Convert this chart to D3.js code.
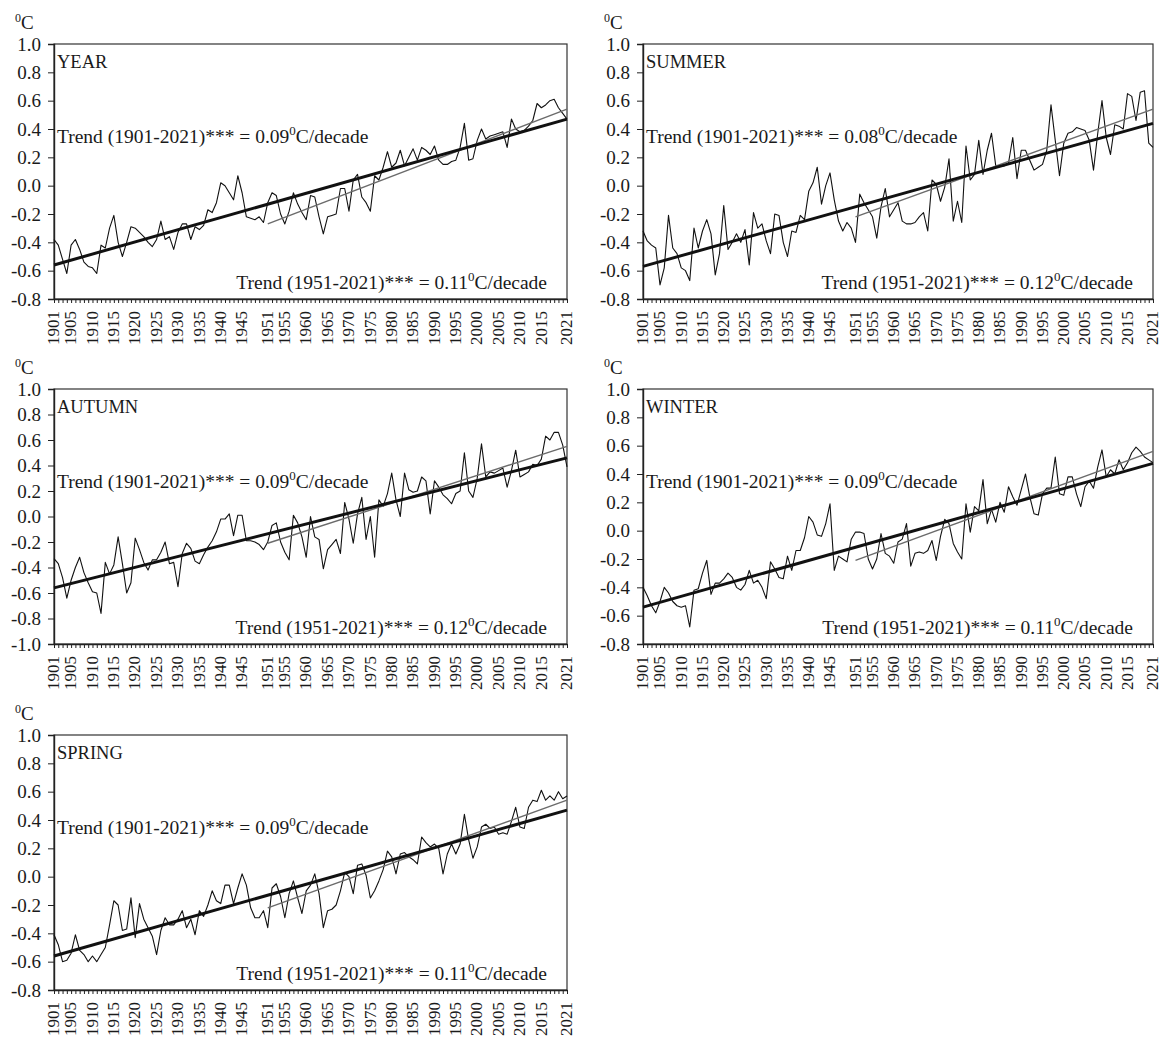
<!DOCTYPE html>
<html>
<head>
<meta charset="utf-8">
<script src="https://cdn.jsdelivr.net/npm/d3@7"></script>
<style>
  body { margin: 0; background: #fff; }
  svg text { font-family: "Liberation Serif", "Times New Roman", serif; fill: #1a1a1a; }
</style>
</head>
<body>
<div id="chart"></div>
<script>
// years 1901-2021
const years = d3.range(1901, 2022);

const yearVals = [
  -0.38,-0.42,-0.52,-0.62,-0.42,-0.38,-0.45,-0.54,-0.57,-0.58,
  -0.62,-0.42,-0.44,-0.30,-0.21,-0.40,-0.50,-0.40,-0.29,-0.30,
  -0.33,-0.36,-0.40,-0.43,-0.38,-0.25,-0.38,-0.36,-0.45,-0.33,
  -0.27,-0.27,-0.38,-0.29,-0.31,-0.28,-0.17,-0.19,-0.12,0.02,
  0.00,-0.05,-0.10,0.07,-0.05,-0.22,-0.23,-0.24,-0.22,-0.26,
  -0.12,-0.05,-0.07,-0.20,-0.27,-0.18,-0.05,-0.13,-0.19,-0.24,
  -0.07,-0.08,-0.22,-0.34,-0.22,-0.21,-0.20,-0.02,-0.02,-0.18,
  0.04,0.08,-0.08,-0.12,-0.18,0.07,0.04,0.13,0.24,0.13,
  0.16,0.25,0.14,0.20,0.26,0.18,0.27,0.25,0.22,0.28,
  0.18,0.15,0.15,0.17,0.18,0.27,0.44,0.18,0.19,0.32,
  0.40,0.33,0.35,0.36,0.37,0.38,0.27,0.47,0.40,0.38,
  0.39,0.42,0.46,0.58,0.55,0.57,0.60,0.61,0.55,0.51,
  0.47
];

const summerVals = [
  -0.32,-0.39,-0.42,-0.44,-0.70,-0.58,-0.21,-0.44,-0.48,-0.58,
  -0.60,-0.67,-0.30,-0.44,-0.32,-0.24,-0.34,-0.63,-0.48,-0.14,
  -0.45,-0.40,-0.34,-0.40,-0.31,-0.56,-0.19,-0.30,-0.27,-0.39,
  -0.48,-0.20,-0.21,-0.40,-0.50,-0.32,-0.33,-0.21,-0.24,-0.04,
  0.02,0.13,-0.13,0.00,0.09,-0.10,-0.25,-0.32,-0.26,-0.30,
  -0.40,-0.06,-0.12,-0.17,-0.22,-0.37,-0.15,-0.02,-0.22,-0.17,
  -0.12,-0.25,-0.27,-0.27,-0.26,-0.22,-0.19,-0.32,0.04,0.01,
  -0.11,-0.01,0.19,-0.25,-0.11,-0.26,0.28,0.04,0.08,0.32,
  0.08,0.25,0.37,0.14,0.14,0.14,0.16,0.34,0.05,0.25,
  0.25,0.18,0.11,0.13,0.15,0.25,0.57,0.32,0.07,0.30,
  0.37,0.38,0.41,0.40,0.39,0.32,0.11,0.37,0.60,0.34,
  0.22,0.43,0.42,0.40,0.65,0.63,0.46,0.66,0.67,0.30,
  0.27
];

const autumnVals = [
  -0.33,-0.37,-0.48,-0.64,-0.50,-0.40,-0.32,-0.44,-0.52,-0.59,
  -0.60,-0.76,-0.36,-0.45,-0.38,-0.16,-0.37,-0.60,-0.52,-0.17,
  -0.26,-0.36,-0.42,-0.34,-0.34,-0.28,-0.20,-0.37,-0.36,-0.55,
  -0.29,-0.21,-0.25,-0.35,-0.37,-0.30,-0.24,-0.19,-0.12,-0.02,
  -0.02,0.02,-0.15,0.01,0.01,-0.19,-0.19,-0.20,-0.22,-0.26,
  -0.20,-0.07,-0.05,-0.20,-0.28,-0.34,0.01,-0.05,-0.16,-0.32,
  0.00,-0.16,-0.18,-0.41,-0.26,-0.22,-0.18,-0.29,0.11,-0.02,
  -0.21,0.02,0.15,-0.18,0.00,-0.32,0.13,0.08,0.18,0.34,
  0.13,0.00,0.34,0.21,0.19,0.20,0.31,0.28,0.02,0.28,
  0.23,0.17,0.14,0.10,0.18,0.20,0.50,0.20,0.15,0.30,
  0.57,0.31,0.35,0.34,0.36,0.38,0.23,0.36,0.52,0.31,
  0.33,0.35,0.41,0.40,0.45,0.63,0.60,0.66,0.66,0.56,
  0.39
];

const winterVals = [
  -0.40,-0.46,-0.53,-0.58,-0.50,-0.40,-0.44,-0.50,-0.53,-0.54,
  -0.53,-0.68,-0.42,-0.41,-0.30,-0.21,-0.45,-0.37,-0.37,-0.34,
  -0.30,-0.33,-0.40,-0.42,-0.38,-0.28,-0.37,-0.35,-0.40,-0.48,
  -0.22,-0.27,-0.33,-0.34,-0.18,-0.28,-0.14,-0.14,-0.05,0.10,
  0.06,-0.03,-0.04,0.05,0.19,-0.28,-0.18,-0.20,-0.22,-0.06,
  -0.01,-0.01,-0.02,-0.20,-0.27,-0.20,-0.02,-0.16,-0.18,-0.23,
  -0.08,-0.06,0.05,-0.25,-0.16,-0.15,-0.16,-0.14,-0.07,-0.21,
  -0.04,0.08,0.05,-0.09,-0.15,-0.20,0.19,-0.01,0.17,0.14,
  0.36,0.05,0.15,0.06,0.20,0.13,0.31,0.24,0.18,0.29,
  0.40,0.24,0.12,0.11,0.26,0.30,0.30,0.52,0.26,0.25,
  0.38,0.38,0.26,0.17,0.31,0.35,0.30,0.45,0.57,0.38,
  0.43,0.40,0.50,0.43,0.48,0.55,0.59,0.56,0.52,0.50,
  0.48
];

const springVals = [
  -0.41,-0.48,-0.60,-0.59,-0.54,-0.41,-0.52,-0.55,-0.60,-0.56,
  -0.60,-0.55,-0.50,-0.34,-0.17,-0.20,-0.38,-0.37,-0.15,-0.43,
  -0.19,-0.30,-0.36,-0.42,-0.55,-0.38,-0.29,-0.34,-0.34,-0.30,
  -0.24,-0.36,-0.30,-0.41,-0.24,-0.28,-0.20,-0.10,-0.17,-0.19,
  -0.06,-0.06,-0.19,-0.08,0.02,-0.06,-0.22,-0.29,-0.29,-0.24,
  -0.36,-0.08,-0.05,-0.14,-0.29,-0.12,-0.03,-0.15,-0.26,-0.10,
  -0.06,0.02,-0.12,-0.36,-0.24,-0.23,-0.20,-0.10,0.03,0.00,
  -0.12,0.08,0.09,0.01,-0.15,-0.10,-0.03,0.05,0.18,0.14,
  0.02,0.16,0.17,0.14,0.12,0.09,0.28,0.24,0.21,0.23,
  0.20,0.02,0.16,0.23,0.16,0.23,0.44,0.26,0.13,0.21,
  0.35,0.37,0.34,0.35,0.30,0.31,0.30,0.39,0.49,0.35,
  0.34,0.49,0.54,0.53,0.61,0.54,0.57,0.54,0.60,0.55,
  0.57
];

// trend line end values: [start, end]
const trendLong = { YEAR: [-0.56, 0.47], SUMMER: [-0.57, 0.44], AUTUMN: [-0.56, 0.46], WINTER: [-0.54, 0.475], SPRING: [-0.56, 0.47] };
const trendShort = { YEAR: [-0.27, 0.54], SUMMER: [-0.22, 0.54], AUTUMN: [-0.21, 0.55], WINTER: [-0.21, 0.56], SPRING: [-0.22, 0.54] };
const rateLong = { YEAR: '0.09', SUMMER: '0.08', AUTUMN: '0.09', WINTER: '0.09', SPRING: '0.09' };
const rateShort = { YEAR: '0.11', SUMMER: '0.12', AUTUMN: '0.12', WINTER: '0.11', SPRING: '0.11' };

const yTicksA = [-0.8, -0.6, -0.4, -0.2, 0.0, 0.2, 0.4, 0.6, 0.8, 1.0];
const yTicksB = [-1.0, -0.8, -0.6, -0.4, -0.2, 0.0, 0.2, 0.4, 0.6, 0.8, 1.0];
const xLabels = [1901, 1905, 1910, 1915, 1920, 1925, 1930, 1935, 1940, 1945,
                 1951, 1955, 1960, 1965, 1970, 1975, 1980, 1985, 1990, 1995,
                 2000, 2005, 2010, 2015, 2021];

const panels = [
  { name: 'YEAR', values: yearVals, yTicks: yTicksA, left: 54, top: 44, w: 513 },
  { name: 'SUMMER', values: summerVals, yTicks: yTicksA, left: 643, top: 44, w: 510 },
  { name: 'AUTUMN', values: autumnVals, yTicks: yTicksB, left: 54, top: 389, w: 513 },
  { name: 'WINTER', values: winterVals, yTicks: yTicksA, left: 643, top: 389, w: 510 },
  { name: 'SPRING', values: springVals, yTicks: yTicksA, left: 54, top: 735, w: 513 },
];

const width = 1162, height = 1044;
const ph = 255;

const svg = d3.select('#chart')
  .append('svg')
  .attr('width', width)
  .attr('height', height);

svg.append('rect').attr('width', width).attr('height', height).attr('fill', '#fff');

panels.forEach(p => {
  const pw = p.w;
  const g = svg.append('g')
    .attr('transform', `translate(${p.left},${p.top})`);

  const x = d3.scaleLinear().domain([1901, 2021]).range([0, pw]);
  const y = d3.scaleLinear().domain(d3.extent(p.yTicks)).range([ph, 0]);

  // frame
  g.append('rect')
    .attr('width', pw).attr('height', ph)
    .attr('fill', 'none').attr('stroke', '#333').attr('stroke-width', 1.2);

  // y axis
  const yAxis = g.append('g')
    .call(d3.axisLeft(y).tickValues(p.yTicks).tickSize(6).tickPadding(7)
      .tickFormat(d => d.toFixed(1)));
  yAxis.select('.domain').attr('stroke', '#222').attr('stroke-width', 1.4);
  yAxis.selectAll('line').attr('stroke', '#222');
  yAxis.selectAll('text').attr('font-size', 19).attr('fill', '#1a1a1a');

  // x axis, a tick every year, labels on some of them
  const xAxis = g.append('g')
    .attr('transform', `translate(0,${ph})`)
    .call(d3.axisBottom(x).tickValues(years).tickSize(4).tickSizeOuter(0)
      .tickFormat(d => xLabels.includes(d) ? d : ''));
  xAxis.select('.domain').attr('stroke', '#222').attr('stroke-width', 1.4);
  xAxis.selectAll('line').attr('stroke', '#222');
  xAxis.selectAll('text')
    .attr('font-size', 17)
    .attr('fill', '#1a1a1a')
    .attr('text-anchor', 'end')
    .attr('transform', 'rotate(-90)')
    .attr('x', -12)
    .attr('y', 0)
    .attr('dy', '0.28em');

  // unit label
  const unit = g.append('text')
    .attr('x', -39).attr('y', -15)
    .attr('font-size', 19);
  unit.append('tspan').attr('font-size', 12).attr('dy', -7).text('0');
  unit.append('tspan').attr('dy', 7).text('C');

  // series
  const line = d3.line()
    .x((d, i) => x(years[i]))
    .y(d => y(d));

  g.append('path')
    .datum(p.values)
    .attr('fill', 'none')
    .attr('stroke', '#111')
    .attr('stroke-width', 1.1)
    .attr('stroke-linejoin', 'round')
    .attr('d', line);

  const tl = d3.line().x(d => x(d[0])).y(d => y(d[1]));

  g.append('path')
    .datum([[1951, trendShort[p.name][0]], [2021, trendShort[p.name][1]]])
    .attr('fill', 'none')
    .attr('stroke', '#6b6b6b')
    .attr('stroke-width', 1.4)
    .attr('d', tl);

  g.append('path')
    .datum([[1901, trendLong[p.name][0]], [2021, trendLong[p.name][1]]])
    .attr('fill', 'none')
    .attr('stroke', '#111')
    .attr('stroke-width', 3)
    .attr('d', tl);

  // labels
  g.append('text')
    .attr('x', 3).attr('y', 24)
    .attr('font-size', 18.5)
    .text(p.name);

  const t1 = g.append('text')
    .attr('x', 3).attr('y', 99)
    .attr('font-size', 19.5);
  t1.append('tspan').text(`Trend (1901-2021)*** = ${rateLong[p.name]}`);
  t1.append('tspan').attr('font-size', 13).attr('dy', -8).text('0');
  t1.append('tspan').attr('dy', 8).text('C/decade');

  const t2 = g.append('text')
    .attr('x', pw - 20).attr('y', ph - 10)
    .attr('text-anchor', 'end')
    .attr('font-size', 19.5);
  t2.append('tspan').text(`Trend (1951-2021)*** = ${rateShort[p.name]}`);
  t2.append('tspan').attr('font-size', 13).attr('dy', -8).text('0');
  t2.append('tspan').attr('dy', 8).text('C/decade');
});
</script>
</body>
</html>
